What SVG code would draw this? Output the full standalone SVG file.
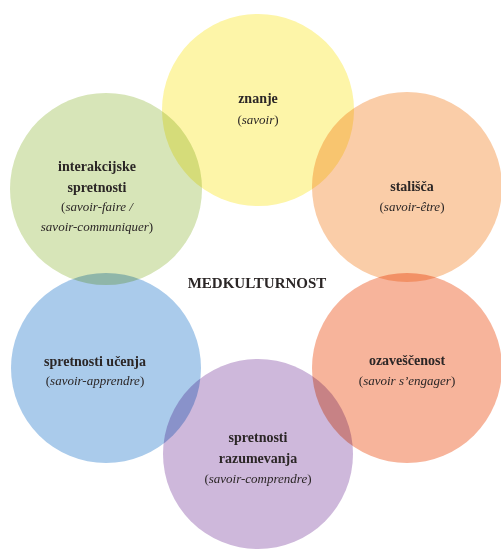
<svg xmlns="http://www.w3.org/2000/svg" width="501" height="549" viewBox="0 0 501 549">
<style>
.c{mix-blend-mode:multiply}
text{font-family:"Liberation Serif","Times New Roman",serif;fill:#2b2626;text-anchor:middle}
.b{font-weight:bold;font-size:14px}
.i{font-size:13px}
.i tspan.it{font-style:italic}
.m{font-weight:bold;font-size:15px}
</style>
<rect width="501" height="549" fill="#ffffff"/>
<g id="circles">
<circle class="c" cx="258" cy="110" r="96" fill="#FDF5A8"/>
<circle class="c" cx="106" cy="189" r="96" fill="#D7E5B8"/>
<circle class="c" cx="407" cy="187" r="95" fill="#FACDA8"/>
<circle class="c" cx="106" cy="368" r="95" fill="#AACBEB"/>
<circle class="c" cx="407" cy="368" r="95" fill="#F7B49B"/>
<circle class="c" cx="258" cy="454" r="95" fill="#CEB8DB"/>
</g>
<g id="znanje">
<text class="b" x="258" y="103">znanje</text>
<text class="i" x="258" y="124">(<tspan class="it">savoir</tspan>)</text>
</g>
<g id="interakcijske">
<text class="b" x="97" y="171">interakcijske</text>
<text class="b" x="97" y="192">spretnosti</text>
<text class="i" x="97" y="211">(<tspan class="it">savoir-faire /</tspan></text>
<text class="i" x="97" y="231"><tspan class="it">savoir-communiquer</tspan>)</text>
</g>
<g id="stalisca">
<text class="b" x="412" y="191">stališča</text>
<text class="i" x="412" y="211">(<tspan class="it">savoir-être</tspan>)</text>
</g>
<g id="medkulturnost">
<text class="m" x="257" y="288">MEDKULTURNOST</text>
</g>
<g id="ucenje">
<text class="b" x="95" y="366">spretnosti učenja</text>
<text class="i" x="95" y="385">(<tspan class="it">savoir-apprendre</tspan>)</text>
</g>
<g id="ozavescenost">
<text class="b" x="407" y="365">ozaveščenost</text>
<text class="i" x="407" y="385">(<tspan class="it">savoir s’engager</tspan>)</text>
</g>
<g id="razumevanje">
<text class="b" x="258" y="442">spretnosti</text>
<text class="b" x="258" y="463">razumevanja</text>
<text class="i" x="258" y="483">(<tspan class="it">savoir-comprendre</tspan>)</text>
</g>
<g id="connectors"/>
</svg>
